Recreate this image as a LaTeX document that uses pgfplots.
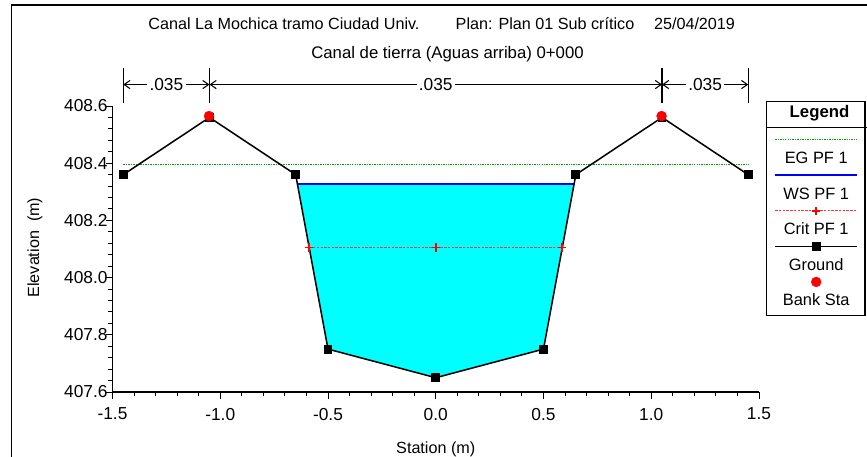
\documentclass[border=0pt]{standalone}
\usepackage{fontspec}
\setmainfont{Liberation Sans}
\usepackage{pgfplots}
\pgfplotsset{compat=1.18}
\usetikzlibrary{arrows.meta}
\definecolor{egGreen}{RGB}{0,160,0}
\definecolor{wsCyan}{RGB}{0,255,255}
\definecolor{wsBlue}{RGB}{0,0,255}
\definecolor{critRed}{RGB}{255,0,0}

% legend samples sit above their text, spanning the text box
\pgfplotsset{
  legLine/.style={legend image code/.code={\draw[overlay,##1] (0cm,0.54cm) -- (2.46cm,0.54cm);}},
  legLineMark/.style={legend image code/.code={\draw[overlay,mark repeat=2,mark phase=2,##1] plot coordinates {(0cm,0.54cm) (1.23cm,0.54cm) (2.46cm,0.54cm)};}},
  legMark/.style={legend image code/.code={\draw[overlay,##1] plot coordinates {(1.23cm,0.54cm)};}},
}

\begin{document}
\begin{tikzpicture}
\useasboundingbox (0,0) rectangle (26.01cm,-13.68cm);
\draw[line width=1.5pt] (0.345cm,-14.5cm) -- (0.345cm,-0.15cm) -- (27cm,-0.15cm);

% titles
\node[anchor=base, font=\fontsize{13.8}{16}\selectfont] at (8.52cm,-0.885cm) {Canal La Mochica tramo Ciudad Univ.};
\node[anchor=base, font=\fontsize{13.8}{16}\selectfont] at (16.35cm,-0.885cm) {Plan: Plan 01 Sub crítico};
\node[anchor=base, font=\fontsize{13.8}{16}\selectfont] at (20.835cm,-0.885cm) {25/04/2019};
\node[anchor=base, font=\fontsize{14.3}{16}\selectfont] at (13.425cm,-1.755cm) {Canal de tierra (Aguas arriba) 0+000};

\begin{axis}[
    at={(3.375cm,-11.76cm)}, anchor=south west,
    scale only axis, width=19.395cm, height=8.58cm,
    xmin=-1.5, xmax=1.5, ymin=407.6, ymax=408.6,
    axis x line*=bottom, axis y line*=left,
    axis line style={line width=1.4pt},
    xtick={-1.5,-1,-0.5,0,0.5,1,1.5},
    ytick={407.6,407.8,408.0,408.2,408.4,408.6},
    minor x tick num=4, minor y tick num=4,
    tick align=outside,
    major tick length=0.2cm, minor tick length=0.12cm,
    tick style={black, line width=0.8pt},
    /pgf/number format/assume math mode=true,
    xticklabel style={font=\fontsize{14.8}{16}\selectfont, inner sep=0pt, yshift=-0.27cm,
        /pgf/number format/fixed, /pgf/number format/fixed zerofill, /pgf/number format/precision=1},
    yticklabel style={font=\fontsize{14.8}{16}\selectfont, inner sep=0pt, xshift=0.06cm,
        /pgf/number format/fixed, /pgf/number format/fixed zerofill, /pgf/number format/precision=1},
    xlabel={Station (m)}, ylabel={Elevation\ \ (m)},
    every axis x label/.style={at={(axis description cs:0.5,-0.2133)}, anchor=base, font=\fontsize{13.8}{16}\selectfont},
    every axis y label/.style={at={(axis description cs:-0.12,0.505)}, rotate=90, anchor=center, font=\fontsize{13.8}{16}\selectfont},
    legend style={at={(axis description cs:1.0247,0.8406)}, anchor=north west,
        draw=none, fill=none, inner sep=0pt, row sep=0.717cm, column sep=0pt,
        font=\fontsize{14}{16}\selectfont,
        nodes={inner sep=0pt, text height=0.35cm, text depth=0cm}},
    clip=false,
]
% water area below WS
\addplot[fill=wsCyan, draw=none, forget plot] coordinates {
    (-0.642,408.328) (0.642,408.328) (0.5,407.75) (0,407.65) (-0.5,407.75)
} -- cycle;
% EG PF 1
\addplot[egGreen, line width=0.8pt, dash pattern=on 1.2pt off 0.9pt, legLine] coordinates {
    (-1.45,408.395) (1.45,408.395)
};
% WS PF 1
\addplot[wsBlue, line width=1.7pt, legLine] coordinates {
    (-0.642,408.328) (0.642,408.328)
};
% Crit PF 1
\addplot[critRed!80, line width=0.7pt, dash pattern=on 2pt off 1.2pt, mark=+, mark size=3.6pt,
         mark options={solid, critRed, line width=1.4pt}, legLineMark] coordinates {
    (-0.587,408.105) (0,408.105) (0.587,408.105)
};
% Ground
\addplot[black, line width=1.3pt, mark=square*, mark size=3.1pt, legLineMark] coordinates {
    (-1.45,408.36) (-1.05,408.56) (-0.65,408.36) (-0.5,407.75) (0,407.65)
    (0.5,407.75) (0.65,408.36) (1.05,408.56) (1.45,408.36)
};
% Bank Sta
\addplot[only marks, critRed, mark=*, mark size=4.2pt, legMark] coordinates {
    (-1.052,408.565) (1.048,408.565)
};
\legend{\makebox[2.46cm]{EG PF 1}, \makebox[2.46cm]{WS PF 1}, \makebox[2.46cm]{Crit PF 1},
        \makebox[2.46cm]{Ground}, \makebox[2.46cm]{Bank Sta}}

% Manning's n regions
\draw[line width=1.2pt] (axis cs:-1.45,408.612) -- (axis cs:-1.45,408.733);
\draw[line width=1.2pt] (axis cs:-1.05,408.612) -- (axis cs:-1.05,408.733);
\draw[line width=1.2pt] (axis cs:1.05,408.612) -- (axis cs:1.05,408.733);
\draw[line width=1.2pt] (axis cs:1.45,408.612) -- (axis cs:1.45,408.733);
\draw[{Straight Barb[length=5pt,width=7pt]}-{Straight Barb[length=5pt,width=7pt]}, line width=0.9pt]
    (axis cs:-1.45,408.675) -- (axis cs:-1.05,408.675)
    node[midway, fill=white, inner xsep=2pt, inner ysep=0pt, font=\fontsize{14.8}{16}\selectfont] {.035};
\draw[{Straight Barb[length=5pt,width=7pt]}-{Straight Barb[length=5pt,width=7pt]}, line width=0.9pt]
    (axis cs:-1.05,408.675) -- (axis cs:1.05,408.675)
    node[midway, fill=white, inner xsep=2pt, inner ysep=0pt, font=\fontsize{14.8}{16}\selectfont] {.035};
\draw[{Straight Barb[length=5pt,width=7pt]}-{Straight Barb[length=5pt,width=7pt]}, line width=0.9pt]
    (axis cs:1.05,408.675) -- (axis cs:1.45,408.675)
    node[midway, fill=white, inner xsep=2pt, inner ysep=0pt, font=\fontsize{14.8}{16}\selectfont] {.035};
\end{axis}

% legend frame and header
\draw[line width=1.2pt] (23.0cm,-3.05cm) rectangle (25.95cm,-9.47cm);
\draw[line width=1.2pt] (23.0cm,-3.83cm) -- (26.01cm,-3.83cm);
\node[anchor=base, font=\fontsize{14.3}{16}\selectfont\bfseries] at (24.585cm,-3.51cm) {Legend};
\end{tikzpicture}
\end{document}
